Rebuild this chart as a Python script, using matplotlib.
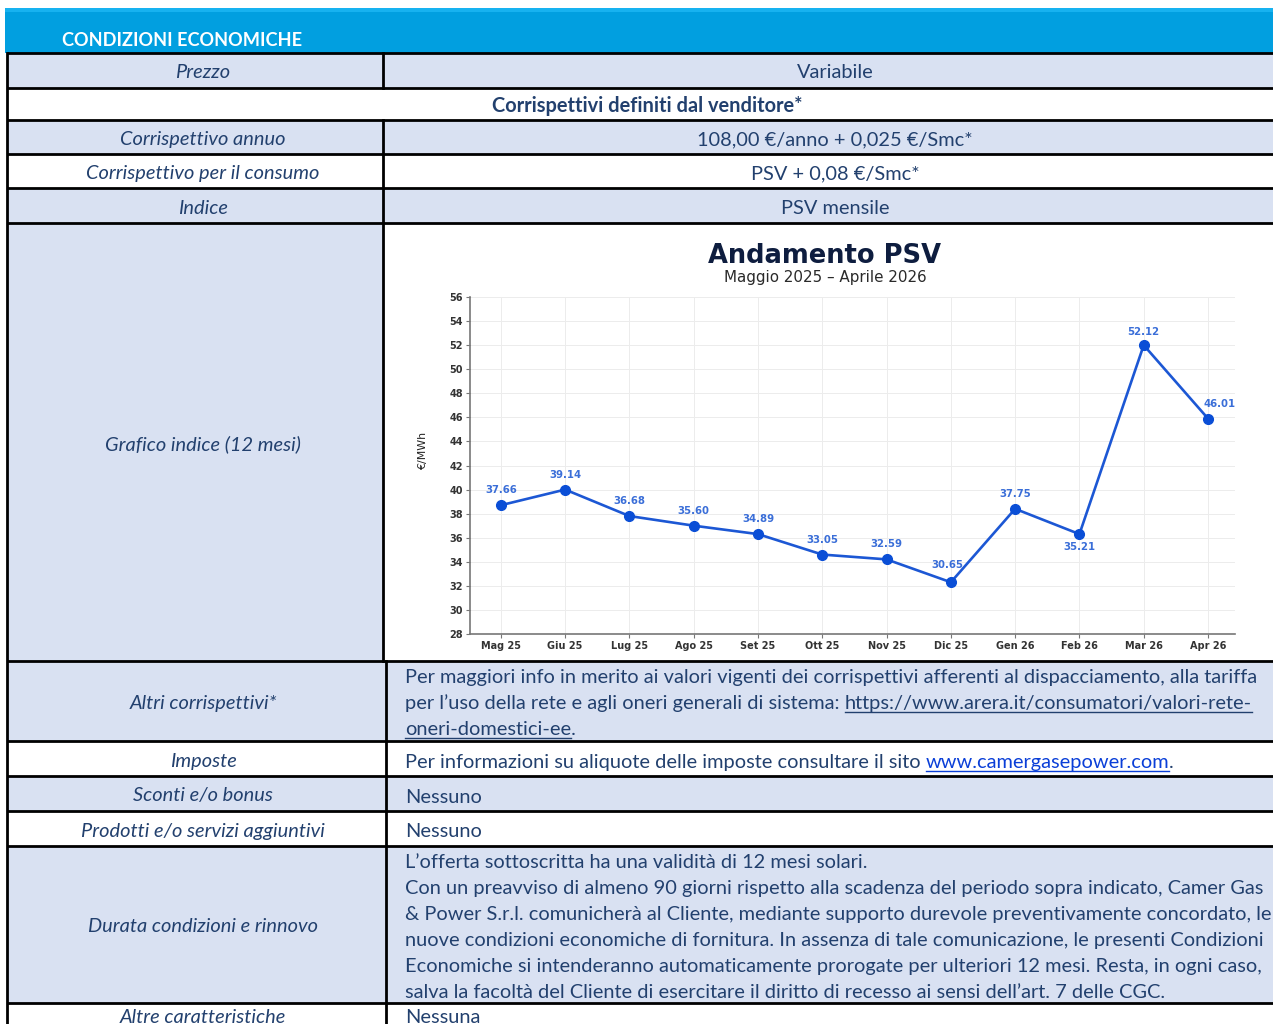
import numpy as np
import matplotlib
matplotlib.use("Agg")
import matplotlib.pyplot as plt
from matplotlib.patches import Rectangle

# --- chart data (PSV monthly, €/MWh) ---
months = ["Mag 25", "Giu 25", "Lug 25", "Ago 25", "Set 25", "Ott 25",
          "Nov 25", "Dic 25", "Gen 26", "Feb 26", "Mar 26", "Apr 26"]
psv_plotted = [38.7, 40.0, 37.8, 37.0, 36.3, 34.6, 34.2, 32.3, 38.4, 36.3, 52.0, 45.9]
psv_labels = ["37.66", "39.14", "36.68", "35.60", "34.89", "33.05",
              "32.59", "30.65", "37.75", "35.21", "52.12", "46.01"]
y_ticks = list(range(28, 57, 2))

# --- table text ---
left_labels = ["Prezzo", None, "Corrispettivo annuo", "Corrispettivo per il consumo",
               "Indice", "Grafico indice (12 mesi)", "Altri corrispettivi*", "Imposte",
               "Sconti e/o bonus", "Prodotti e/o servizi aggiuntivi",
               "Durata condizioni e rinnovo", "Altre caratteristiche"]
right_centered = {0: "Variabile", 2: "108,00 €/anno + 0,025 €/Smc*",
                  3: "PSV + 0,08 €/Smc*", 4: "PSV mensile"}
merged_title = "Corrispettivi definiti dal venditore*"
altri_lines = ["Per maggiori info in merito ai valori vigenti dei corrispettivi afferenti al dispacciamento, alla tariffa",
               "per l’uso della rete e agli oneri generali di sistema: "]
altri_link1 = "https://www.arera.it/consumatori/valori-rete-"
altri_link2 = "oneri-domestici-ee"
imposte_prefix = "Per informazioni su aliquote delle imposte consultare il sito "
imposte_link = "www.camergasepower.com"
durata_lines = ["L’offerta sottoscritta ha una validità di 12 mesi solari.",
                "Con un preavviso di almeno 90 giorni rispetto alla scadenza del periodo sopra indicato, Camer Gas",
                "& Power S.r.l. comunicherà al Cliente, mediante supporto durevole preventivamente concordato, le",
                "nuove condizioni economiche di fornitura. In assenza di tale comunicazione, le presenti Condizioni",
                "Economiche si intenderanno automaticamente prorogate per ulteriori 12 mesi. Resta, in ogni caso,",
                "salva la facoltà del Cliente di esercitare il diritto di recesso ai sensi dell’art. 7 delle CGC."]

W, H = 1273, 1024
NAVY = "#22406e"
CELL = "#d9e1f2"
HEAD = "#019fe0"
FONT = "Lato"

fig = plt.figure(figsize=(W / 100, H / 100), dpi=100)
page = fig.add_axes([0, 0, 1, 1])
page.set_xlim(0, W)
page.set_ylim(H, 0)
page.axis("off")
renderer = fig.canvas.get_renderer()


def text_w(s, **kw):
    t = page.text(0, 0, s, **kw)
    w = t.get_window_extent(renderer).width
    t.remove()
    return w


def advance(s, **kw):
    return text_w(s + "|", **kw) - text_w("|", **kw)


def fit_size(s, target, **kw):
    return 10 * target / text_w(s, fontsize=10, **kw)


body_size = fit_size(durata_lines[1], 863, family=FONT)
body = dict(family=FONT, fontsize=body_size, color=NAVY)
ital = dict(body, style="italic")

# header bar
page.add_patch(Rectangle((5, 8), W - 5, 45, color=HEAD, lw=0))
page.add_patch(Rectangle((5, 8), W - 5, 4, color="#17b2f0", lw=0))
page.text(62, 46, "CONDIZIONI ECONOMICHE", family=FONT, weight="bold", color="white",
          fontsize=fit_size("CONDIZIONI ECONOMICHE", 238, family=FONT, weight="bold"),
          va="baseline")

row_edges = [53, 88, 120, 154, 188, 223, 661, 741, 776, 811, 846, 1003, 1050]
left_fill = [CELL, "white", CELL, "white", CELL, CELL, CELL, "white", CELL, "white", CELL, "white"]
right_fill = [CELL, "white", CELL, "white", CELL, "white", CELL, "white", CELL, "white", CELL, "white"]
divider = [383] * 6 + [386] * 6

for i, lab in enumerate(left_labels):
    top, bot = row_edges[i], row_edges[i + 1]
    d = divider[i]
    if lab is None:
        page.add_patch(Rectangle((7, top), W - 7, bot - top, color=left_fill[i], lw=0))
        page.text(647, (top + bot) / 2 + 8, merged_title, va="baseline", ha="center",
                  **dict(body, weight="bold"))
        continue
    page.add_patch(Rectangle((7, top), d - 7, bot - top, color=left_fill[i], lw=0))
    page.add_patch(Rectangle((d, top), W - d, bot - top, color=right_fill[i], lw=0))
    cy = (top + bot) / 2 if i < 11 else 1015
    page.text(203, cy + 8, lab, ha="center", va="baseline", **ital)
    if i in right_centered:
        page.text(835, cy + 8, right_centered[i], ha="center", va="baseline", **body)

# lower right column texts
page.text(405, 683, altri_lines[0], va="baseline", **body)
page.text(405, 709, altri_lines[1], va="baseline", **body)
x1 = 405 + advance(altri_lines[1], **body)
page.text(x1, 709, altri_link1, va="baseline", **body)
page.plot([x1, x1 + text_w(altri_link1, **body)], [711.5, 711.5], color=NAVY, lw=1)
page.text(405, 735, altri_link2 + ".", va="baseline", **body)
page.plot([405, 405 + text_w(altri_link2, **body)], [737.5, 737.5], color=NAVY, lw=1)

page.text(405, 768, imposte_prefix, va="baseline", **body)
x2 = 405 + advance(imposte_prefix, **body)
page.text(x2, 768, imposte_link, va="baseline", **dict(body, color="#0a3fd8"))
page.plot([x2, x2 + text_w(imposte_link, **body)], [770.5, 770.5], color="#0a3fd8", lw=1)
page.text(x2 + advance(imposte_link, **body), 768, ".", va="baseline", **body)

page.text(405, 803, "Nessuno", va="baseline", **body)
page.text(405, 837, "Nessuno", va="baseline", **body)
for k, line in enumerate(durata_lines):
    page.text(405, 868 + 26 * k, line, va="baseline", **body)
page.text(405, 1023, "Nessuna", va="baseline", **body)

# table rules
for y in row_edges[:-1]:
    page.plot([7, W], [y, y], color="black", lw=2, solid_capstyle="butt")
page.plot([7, 7], [53, H], color="black", lw=2)
page.plot([383, 383], [53, 88], color="black", lw=2)
page.plot([383, 383], [120, 661], color="black", lw=2)
page.plot([386, 386], [661, H], color="black", lw=2)

# chart titles
tfont = "DejaVu Sans"
page.text(825, 263, "Andamento PSV", ha="center", va="baseline", family=tfont,
          weight="bold", color="#0e1d3f",
          fontsize=fit_size("Andamento PSV", 234, family=tfont, weight="bold"))
page.text(825, 282, "Maggio 2025 – Aprile 2026", ha="center", va="baseline", family=tfont,
          color="#2a2a2a",
          fontsize=fit_size("Maggio 2025 – Aprile 2026", 203, family=tfont))
page.text(423, 451, "€/MWh", rotation=90, ha="center", va="center", family=tfont,
          fontsize=7.9, color="#222222")

# PSV line chart
ax = fig.add_axes([470 / W, 1 - 634 / H, 765 / W, 337 / H])
x = np.arange(len(months))
ax.plot(x, psv_plotted, color="#1c57d4", lw=1.9, marker="o", ms=7,
        mfc="#0a4ed6", mec="#0a4ed6", zorder=3)
ax.set_xlim(-0.48, 11.42)
ax.set_ylim(28, 56)
ax.set_yticks(y_ticks)
ax.set_xticks(x, months)
ax.grid(color="#ececec", lw=0.7)
ax.set_axisbelow(True)
for s in ("top", "right"):
    ax.spines[s].set_visible(False)
for s in ("left", "bottom"):
    ax.spines[s].set_color("#777777")
    ax.spines[s].set_linewidth(1.2)
ax.tick_params(length=3, width=0.8, color="#777777", labelsize=7, labelcolor="#333333", pad=2)
for t in ax.get_xticklabels() + ax.get_yticklabels():
    t.set_fontweight("bold")
    t.set_family(tfont)

offsets = [(0, 15)] * 7 + [(-3, 17), (0, 15), (0, -13), (0, 13), (12, 15)]
for xi, v, lab, (dx, dy) in zip(x, psv_plotted, psv_labels, offsets):
    ax.annotate(lab, (xi, v), xytext=(dx, dy), textcoords="offset pixels",
                ha="center", va="center", fontsize=7.3, fontweight="bold",
                color="#3a6ed8", family=tfont)

fig.savefig("out.png", dpi=100)
